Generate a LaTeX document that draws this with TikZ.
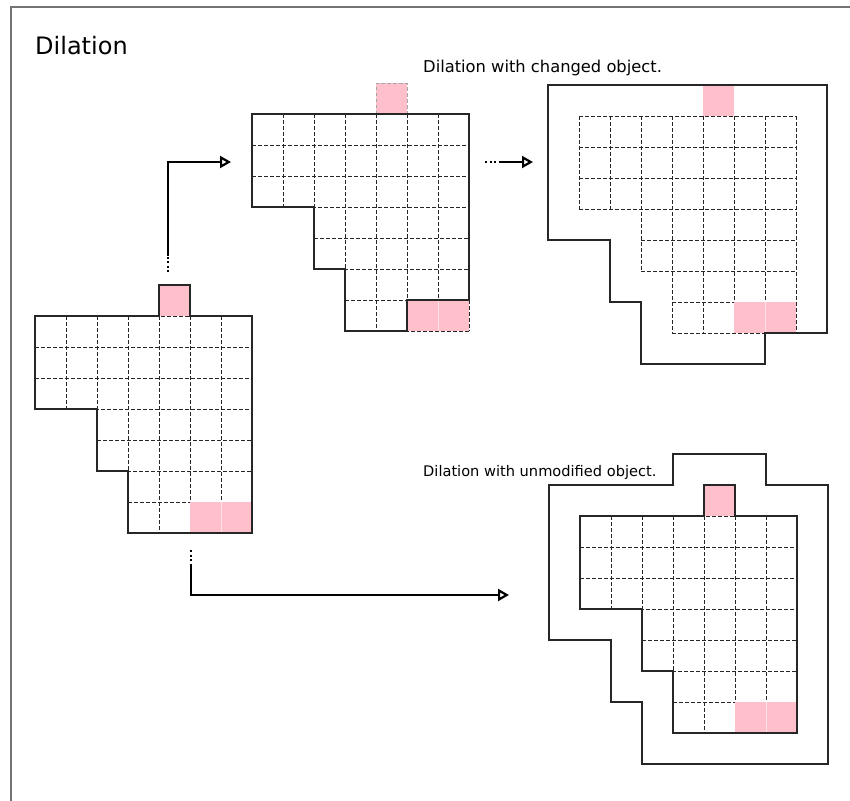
\documentclass[tikz,border=0pt]{standalone}
\usepackage{fontspec}
\setmainfont{DejaVu Sans}
\usetikzlibrary{arrows.meta}
\definecolor{cellpink}{RGB}{255,192,203}
\newcommand{\objgrid}{%
  \foreach \r in {0,...,3} \draw[cellgrid] (0,\r) -- (7,\r);
  \foreach \r in {4,5} \draw[cellgrid] (2,\r) -- (7,\r);
  \foreach \r in {6,7} \draw[cellgrid] (3,\r) -- (7,\r);
  \foreach \c in {0,1} \draw[cellgrid] (\c,0) -- (\c,3);
  \draw[cellgrid] (2,0) -- (2,5);
  \foreach \c in {3,...,7} \draw[cellgrid] (\c,0) -- (\c,7);
}
\newcommand{\pinkcells}[1][]{%
  \fill[pinkcell,#1] (4,-1) rectangle (5,0);
  \fill[pinkcell,#1] (5,6) rectangle (6,7);
  \fill[pinkcell,#1] (6,6) rectangle (7,7);
  \draw[white!55!cellpink,line width=0.5pt] (6,6) -- (6,7);
}

\begin{document}
\begin{tikzpicture}[x=1pt,y=-1pt,
    every node/.style={inner sep=0pt},
    cellgrid/.style={draw=black!85,line width=0.9pt,dash pattern=on 3.5pt off 2.5pt},
    outline/.style={draw=black!85,line width=1.7pt,line join=miter},
    pinkcell/.style={fill=cellpink},
    flow/.style={line width=2.4pt,-{Triangle[open,length=11pt,width=12pt,line width=2.2pt]}},
    flowdots/.style={line width=2.4pt,dash pattern=on 2pt off 2.5pt},
    lbl/.style={anchor=base west},
  ]
  \useasboundingbox (0,0) rectangle (850,800);
  \clip (0,0) rectangle (850,800);
  \draw[black!55,line width=1.5pt] (11,7) rectangle (880,830);

  \node[lbl,font=\fontsize{24}{28}\selectfont] (title) at (35,54) {Dilation};
  \node[lbl,font=\fontsize{16.3}{19}\selectfont] (chg) at (423,72) {Dilation with changed object.};
  \node[lbl,font=\fontsize{14.6}{18}\selectfont] (unmod) at (423,476) {Dilation with unmodified object.};

  % original object
  \begin{scope}[shift={(35,316)},x=31pt,y=-31pt]
    \objgrid
    \pinkcells
    \draw[outline] (0,0) -- (4,0) -- (4,-1) -- (5,-1) -- (5,0) -- (7,0) -- (7,7)
      -- (3,7) -- (3,5) -- (2,5) -- (2,3) -- (0,3) -- cycle;
  \end{scope}

  % changed object
  \begin{scope}[shift={(252,114)},x=31pt,y=-31pt]
    \objgrid
    \pinkcells
    \draw[cellgrid,draw=black!35] (4,0) -- (4,-1) -- (5,-1) -- (5,0);
    \draw[outline] (0,0) -- (7,0) -- (7,6) -- (5,6) -- (5,7) -- (3,7) -- (3,5)
      -- (2,5) -- (2,3) -- (0,3) -- cycle;
  \end{scope}

  % dilation of changed object
  \begin{scope}[shift={(579,116)},x=31pt,y=-31pt]
    \objgrid
    \pinkcells
    \draw[outline] (-1,-1) -- (8,-1) -- (8,7) -- (6,7) -- (6,8) -- (2,8) -- (2,6)
      -- (1,6) -- (1,4) -- (-1,4) -- cycle;
  \end{scope}

  % dilation of unmodified object
  \begin{scope}[shift={(580,516)},x=31pt,y=-31pt]
    \objgrid
    \pinkcells
    \draw[outline] (0,0) -- (4,0) -- (4,-1) -- (5,-1) -- (5,0) -- (7,0) -- (7,7)
      -- (3,7) -- (3,5) -- (2,5) -- (2,3) -- (0,3) -- cycle;
    \draw[outline] (-1,-1) -- (3,-1) -- (3,-2) -- (6,-2) -- (6,-1) -- (8,-1) -- (8,8)
      -- (2,8) -- (2,6) -- (1,6) -- (1,4) -- (-1,4) -- cycle;
  \end{scope}

  % flow arrows
  \coordinate (up0) at (168,272);
  \coordinate (up1) at (168,256);
  \coordinate (chgin) at (231,162);
  \coordinate (mid0) at (485,162);
  \coordinate (mid1) at (499,162);
  \coordinate (dilin) at (533,162);
  \coordinate (dn0) at (191,550);
  \coordinate (dn1) at (191,564);
  \coordinate (unmodin) at (509,595);
  \draw[flowdots] (up0) -- (up1);
  \draw[flow] (up1) |- (chgin);
  \draw[flowdots] (mid0) -- (mid1);
  \draw[flow] (mid1) -- (dilin);
  \draw[flowdots] (dn0) -- (dn1);
  \draw[flow] (dn1) |- (unmodin);
\end{tikzpicture}
\end{document}
